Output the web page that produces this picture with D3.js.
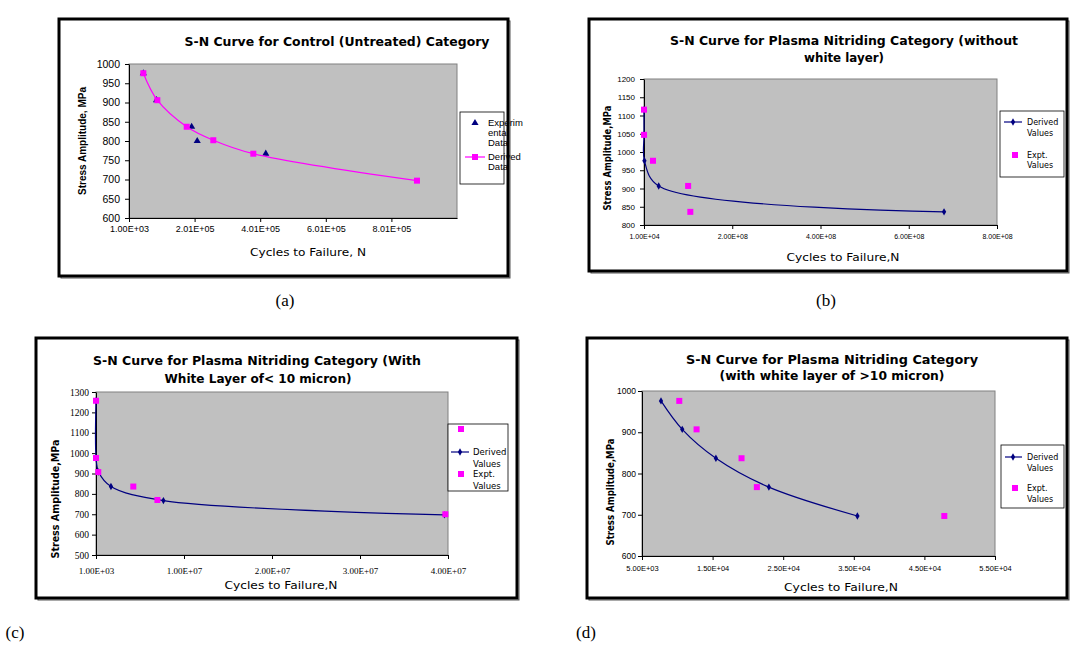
<!DOCTYPE html>
<html><head><meta charset="utf-8">
<script src="https://cdn.jsdelivr.net/npm/d3@7"></script>
<style>body{margin:0;background:#fff} svg{display:block}</style>
</head><body>
<svg id="chart" width="1070" height="653"></svg>
<script>
// ---------- DATA ----------
// (a) Control (Untreated)
const aExpN = [44700, 85000, 192000, 209000, 418000];
const aExpS = [976, 906, 837, 800, 767];
const aDerN = [44700, 87400, 177000, 258000, 380000, 879000];
const aDerS = [976, 906, 837, 802, 767, 697];
const aXTicks = [1000, 201000, 401000, 601000, 801000];
const aXLabels = ["1.00E+03", "2.01E+05", "4.01E+05", "6.01E+05", "8.01E+05"];
const aYTicks = [600, 650, 700, 750, 800, 850, 900, 950, 1000];

// (b) Plasma nitriding without white layer
const bDerN = [10000, 100000, 1000000, 33300000, 680000000];
const bDerS = [1116, 1047, 976, 907, 836];
const bExpN = [10000, 100000, 20400000, 100000000, 105000000];
const bExpS = [1116, 1047, 976, 907, 836];
const bXTicks = [10000, 200010000, 400010000, 600010000, 800010000];
const bXLabels = ["1.00E+04", "2.00E+08", "4.00E+08", "6.00E+08", "8.00E+08"];
const bYTicks = [800, 850, 900, 950, 1000, 1050, 1100, 1150, 1200];

// (c) Plasma nitriding with white layer < 10 micron
const cDerN = [1000, 10000, 300000, 1700000, 7660000, 39600000];
const cDerS = [1257, 976, 907, 836, 767, 697];
const cExpN = [1000, 1000, 260000, 4240000, 6980000, 39700000];
const cExpS = [1257, 976, 907, 836, 770, 700];
const cXTicks = [1000, 10001000, 20001000, 30001000, 40001000];
const cXLabels = ["1.00E+03", "1.00E+07", "2.00E+07", "3.00E+07", "4.00E+07"];
const cYTicks = [500, 600, 700, 800, 900, 1000, 1100, 1200, 1300];

// (d) Plasma nitriding with white layer > 10 micron
const dDerN = [7690, 10700, 15470, 22970, 35510];
const dDerS = [976, 907, 837, 767, 697];
const dExpN = [10280, 12730, 19100, 21270, 47820];
const dExpS = [976, 907, 837, 767, 697];
const dXTicks = [5000, 15000, 25000, 35000, 45000, 55000];
const dXLabels = ["5.00E+03", "1.50E+04", "2.50E+04", "3.50E+04", "4.50E+04", "5.50E+04"];
const dYTicks = [600, 700, 800, 900, 1000];

const MAG = "#FF00FF", NAVY = "#000080", PLOTBG = "#C0C0C0";
const COMIC = "'DejaVu Sans', sans-serif";
const ARIAL = "'Liberation Sans', Arial, sans-serif";
const SERIF = "'Liberation Serif', 'Times New Roman', serif";

const svg = d3.select("#chart");

function frame(x0, y0, x1, y1) {
  svg.append("rect").attr("x", x0 + 2).attr("y", y0 + 2).attr("width", x1 - x0).attr("height", y1 - y0)
    .attr("fill", "none").attr("stroke", "#555").attr("stroke-width", 1);
  svg.append("rect").attr("x", x0).attr("y", y0).attr("width", x1 - x0).attr("height", y1 - y0)
    .attr("fill", "#fff").attr("stroke", "#000").attr("stroke-width", 3);
}

function txt(g, x, y, s, o) {
  const t = g.append("text").attr("x", x).attr("y", y).text(s)
    .attr("font-family", o.font || COMIC).attr("font-size", o.size || 10)
    .attr("font-weight", o.weight || "normal").attr("font-style", o.style || "normal")
    .attr("text-anchor", o.anchor || "middle").attr("fill", "#000");
  if (o.len) t.attr("textLength", o.len).attr("lengthAdjust", "spacingAndGlyphs");
  if (o.rotate) t.attr("transform", `rotate(-90,${x},${y})`);
  return t;
}

function panel(c) {
  frame(...c.frame);
  const g = svg.append("g");
  const [px0, py0, px1, py1] = c.plot;
  const x = d3.scaleLinear().domain(c.xDomain).range([px0, px1]);
  const y = d3.scaleLinear().domain(c.yDomain).range([py1, py0]);

  g.append("rect").attr("x", px0).attr("y", py0).attr("width", px1 - px0).attr("height", py1 - py0)
    .attr("fill", PLOTBG).attr("stroke", "#808080").attr("stroke-width", 1);

  const ya = g.append("g").attr("transform", `translate(${px0},0)`)
    .call(d3.axisLeft(y).tickValues(c.yTicks).tickSize(4).tickSizeOuter(0).tickPadding(c.yPad).tickFormat(d3.format("d")));
  const xa = g.append("g").attr("transform", `translate(0,${py1})`)
    .call(d3.axisBottom(x).tickValues(c.xTicks).tickSize(4).tickSizeOuter(0).tickPadding(c.xPad).tickFormat((d, i) => c.xLabels[i]));
  [ya, xa].forEach(a => {
    a.select(".domain").attr("stroke", "#000");
    a.selectAll(".tick line").attr("stroke", "#000");
  });
  ya.selectAll("text").attr("font-family", c.tickFont).attr("font-size", c.yTickSize).attr("fill", "#000");
  xa.selectAll("text").attr("font-family", c.tickFont).attr("font-size", c.xTickSize).attr("fill", "#000");

  // series
  c.series.forEach(s => {
    const pts = s.n.map((n, i) => [x(n), y(s.s[i])]);
    if (s.line) {
      g.append("path").datum(pts).attr("fill", "none").attr("stroke", s.color).attr("stroke-width", 1.2)
        .attr("d", d3.line().curve(d3.curveCatmullRom.alpha(0.5)));
    }
    if (s.marker === "square") {
      g.selectAll(null).data(pts).enter().append("rect")
        .attr("x", d => d[0] - 3).attr("y", d => d[1] - 3).attr("width", 6).attr("height", 6).attr("fill", s.color);
    } else if (s.marker === "triangle") {
      g.selectAll(null).data(pts).enter().append("path")
        .attr("transform", d => `translate(${d[0]},${d[1]})`)
        .attr("d", d3.symbol().type(d3.symbolTriangle).size(22)).attr("fill", s.color);
    } else if (s.marker === "diamond") {
      g.selectAll(null).data(pts).enter().append("path")
        .attr("transform", d => `translate(${d[0]},${d[1]})`)
        .attr("d", d3.symbol().type(d3.symbolDiamond).size(16)).attr("fill", s.color);
    }
  });

  // titles
  c.title.forEach(t => txt(g, t.x, t.y, t.s, { size: 12, weight: "bold", len: t.len }));
  txt(g, c.yTitle.x, c.yTitle.y, "Stress Amplitude" + c.yTitle.sep + "MPa",
      { size: c.yTitle.size, weight: "bold", rotate: true, len: c.yTitle.len, font: c.yTitle.font });
  txt(g, c.xTitle.x, c.xTitle.y, c.xTitle.s, { size: 11, len: c.xTitle.len, font: c.xTitle.font });

  // legend
  const L = c.legend;
  g.append("rect").attr("x", L.box[0]).attr("y", L.box[1]).attr("width", L.box[2]).attr("height", L.box[3])
    .attr("fill", "#fff").attr("stroke", "#000").attr("stroke-width", 0.8);
  L.items.forEach(it => {
    if (it.line) g.append("line").attr("x1", it.line[0]).attr("x2", it.line[1]).attr("y1", it.my).attr("y2", it.my)
      .attr("stroke", it.color).attr("stroke-width", 1.2);
    if (it.marker === "square") g.append("rect").attr("x", it.mx - 3).attr("y", it.my - 3).attr("width", 6).attr("height", 6).attr("fill", it.color);
    if (it.marker === "triangle") g.append("path").attr("transform", `translate(${it.mx},${it.my})`)
      .attr("d", d3.symbol().type(d3.symbolTriangle).size(22)).attr("fill", it.color);
    if (it.marker === "diamond") g.append("path").attr("transform", `translate(${it.mx},${it.my})`)
      .attr("d", d3.symbol().type(d3.symbolDiamond).size(16)).attr("fill", it.color);
    it.text.forEach((s, i) => txt(g, it.tx, it.ty[i], s, { size: L.size, anchor: "start", font: L.font }));
  });

  txt(svg, c.caption.x, c.caption.y, c.caption.s, { size: 17, font: SERIF });
}

// (a)
panel({
  frame: [59, 19, 508, 276],
  plot: [129, 64, 457, 218],
  xDomain: [1000, 1001000], yDomain: [600, 1000],
  xTicks: aXTicks, xLabels: aXLabels, yTicks: aYTicks,
  tickFont: ARIAL, yTickSize: 10.5, xTickSize: 9, yPad: 5, xPad: 4,
  series: [
    { n: aExpN, s: aExpS, color: NAVY, marker: "triangle" },
    { n: aDerN, s: aDerS, color: MAG, marker: "square", line: true }
  ],
  title: [{ x: 337, y: 46, s: "S-N Curve for Control (Untreated) Category", len: 305 }],
  yTitle: { x: 86, y: 141, sep: ", ", len: 108, size: 11, font: ARIAL },
  xTitle: { x: 308, y: 256, s: "Cycles to Failure, N", len: 116, font: COMIC },
  legend: { box: [460, 112, 44, 72], size: 9.5, font: ARIAL, items: [
    { marker: "triangle", color: NAVY, mx: 475, my: 123, tx: 488, ty: [126, 136, 146], text: ["Experim", "ental", "Data"] },
    { marker: "square", color: MAG, line: [465, 485], mx: 475, my: 157, tx: 488, ty: [160, 170], text: ["Derived", "Data"] }
  ]},
  caption: { x: 285, y: 306, s: "(a)" }
});

// (b)
panel({
  frame: [589, 19, 1067, 271],
  plot: [644, 79, 997, 225],
  xDomain: [10000, 800010000], yDomain: [800, 1200],
  xTicks: bXTicks, xLabels: bXLabels, yTicks: bYTicks,
  tickFont: ARIAL, yTickSize: 8, xTickSize: 7, yPad: 5, xPad: 5,
  series: [
    { n: bDerN, s: bDerS, color: NAVY, marker: "diamond", line: true },
    { n: bExpN, s: bExpS, color: MAG, marker: "square" }
  ],
  title: [
    { x: 844, y: 45, s: "S-N Curve for Plasma Nitriding Category (without", len: 348 },
    { x: 844, y: 62, s: "white layer)", len: 80 }
  ],
  yTitle: { x: 611, y: 158, sep: ",", len: 105, size: 11, font: COMIC },
  xTitle: { x: 843, y: 261, s: "Cycles to Failure,N", len: 113, font: COMIC },
  legend: { box: [1000, 111, 64, 66], size: 8, font: COMIC, items: [
    { marker: "diamond", color: NAVY, line: [1004, 1022], mx: 1013, my: 122, tx: 1027, ty: [125, 136], text: ["Derived", "Values"] },
    { marker: "square", color: MAG, mx: 1015, my: 155, tx: 1027, ty: [158, 168], text: ["Expt.", "Values"] }
  ]},
  caption: { x: 826, y: 306, s: "(b)" }
});

// (c)
panel({
  frame: [36, 338, 517, 598],
  plot: [96, 392, 448, 555],
  xDomain: [1000, 40001000], yDomain: [500, 1300],
  xTicks: cXTicks, xLabels: cXLabels, yTicks: cYTicks,
  tickFont: SERIF, yTickSize: 9.5, xTickSize: 9, yPad: 3, xPad: 9,
  series: [
    { n: cDerN, s: cDerS, color: NAVY, marker: "diamond", line: true },
    { n: cExpN, s: cExpS, color: MAG, marker: "square" }
  ],
  title: [
    { x: 257, y: 365, s: "S-N Curve for Plasma Nitriding Category (With", len: 328 },
    { x: 258, y: 383, s: "White Layer of< 10 micron)", len: 187 }
  ],
  yTitle: { x: 59, y: 499, sep: ",", len: 119, size: 11, font: COMIC },
  xTitle: { x: 281, y: 589, s: "Cycles to Failure,N", len: 113, font: COMIC },
  legend: { box: [448, 424, 60, 67], size: 8.5, font: COMIC, items: [
    { marker: "square", color: MAG, mx: 461, my: 429, tx: 473, ty: [], text: [] },
    { marker: "diamond", color: NAVY, line: [451, 469], mx: 460, my: 452, tx: 473, ty: [455, 467], text: ["Derived", "Values"] },
    { marker: "square", color: MAG, mx: 461, my: 474, tx: 473, ty: [477, 489], text: ["Expt.", "Values"] }
  ]},
  caption: { x: 15, y: 638, s: "(c)" }
});

// (d)
panel({
  frame: [587, 338, 1067, 598],
  plot: [642, 391, 995, 556],
  xDomain: [5000, 55000], yDomain: [600, 1000],
  xTicks: dXTicks, xLabels: dXLabels, yTicks: dYTicks,
  tickFont: ARIAL, yTickSize: 8.5, xTickSize: 7.5, yPad: 2, xPad: 6,
  series: [
    { n: dDerN, s: dDerS, color: NAVY, marker: "diamond", line: true },
    { n: dExpN, s: dExpS, color: MAG, marker: "square" }
  ],
  title: [
    { x: 832, y: 364, s: "S-N Curve for Plasma Nitriding Category", len: 292 },
    { x: 832, y: 380, s: "(with white layer of >10 micron)", len: 225 }
  ],
  yTitle: { x: 614, y: 492, sep: ",", len: 107, size: 11, font: COMIC },
  xTitle: { x: 841, y: 591, s: "Cycles to Failure,N", len: 114, font: COMIC },
  legend: { box: [1001, 445, 63, 63], size: 8, font: COMIC, items: [
    { marker: "diamond", color: NAVY, line: [1005, 1022], mx: 1013, my: 457, tx: 1027, ty: [460, 471], text: ["Derived", "Values"] },
    { marker: "square", color: MAG, mx: 1015, my: 488, tx: 1027, ty: [491, 502], text: ["Expt.", "Values"] }
  ]},
  caption: { x: 586, y: 638, s: "(d)" }
});
</script>
</body></html>
